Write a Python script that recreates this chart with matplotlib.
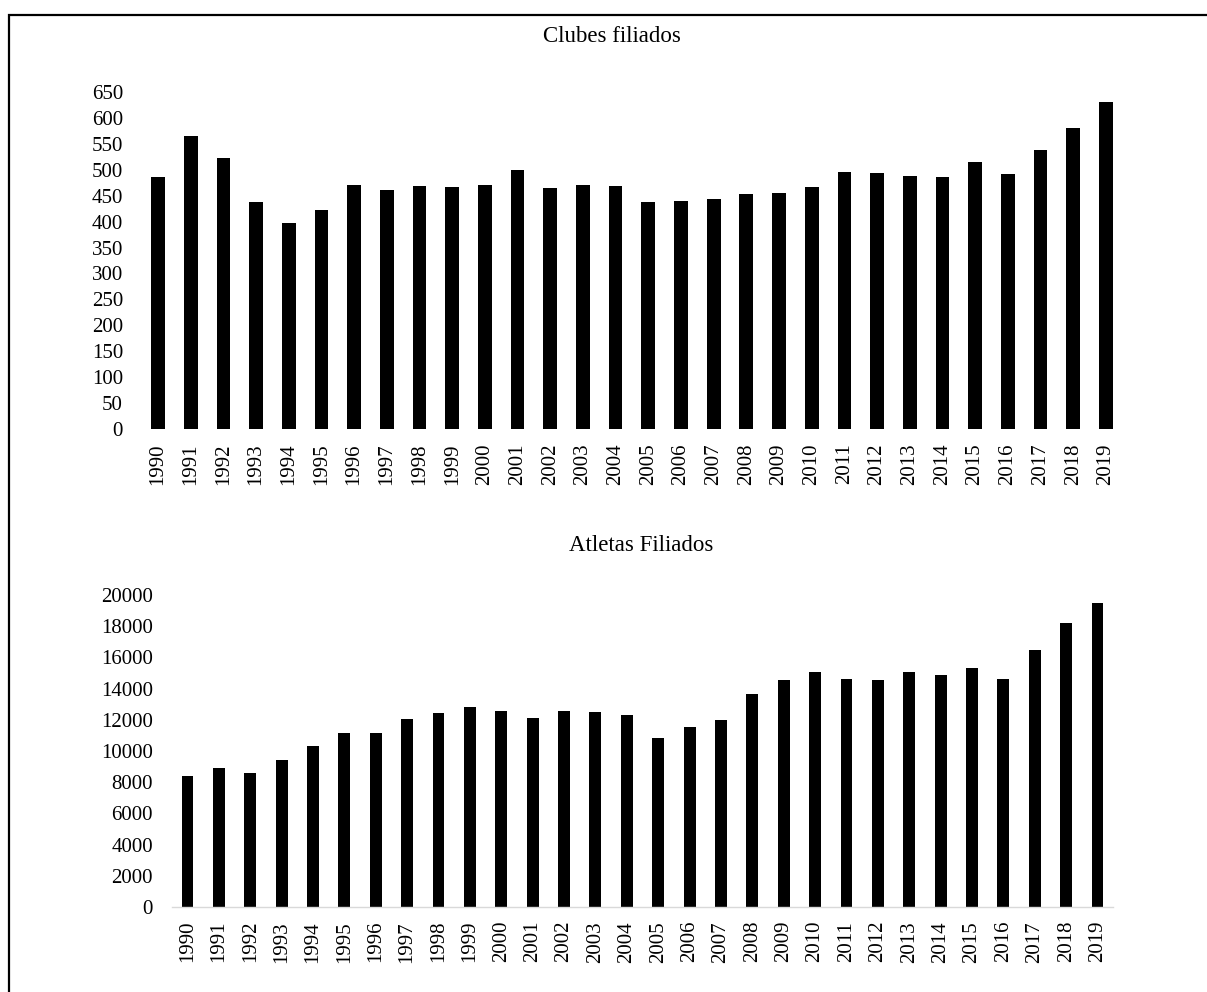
import matplotlib
matplotlib.use("Agg")
import matplotlib.pyplot as plt
from matplotlib.patches import Rectangle

plt.rcParams['font.family'] = ['Liberation Serif', 'DejaVu Serif']

years = [str(y) for y in range(1990, 2020)]

clubes = [485, 565, 522, 437, 398, 422, 470, 461, 469, 466,
          470, 499, 464, 471, 468, 438, 440, 443, 453, 454,
          466, 495, 493, 488, 486, 515, 492, 538, 581, 630]

atletas = [8390, 8880, 8580, 9450, 10310, 11130, 11130, 12020, 12450, 12810,
           12540, 12130, 12580, 12470, 12320, 10810, 11510, 12000, 13630, 14530,
           15040, 14610, 14550, 15040, 14870, 15320, 14590, 16490, 18180, 19470]

clubes_ticks = list(range(0, 651, 50))
atletas_ticks = list(range(0, 20001, 2000))

W, H = 1207, 992
fig = plt.figure(figsize=(W / 100, H / 100), dpi=100)


def px_axes(left, top, right, bottom):
    return fig.add_axes([left / W, 1 - bottom / H, (right - left) / W, (bottom - top) / H])


def style(ax, ticks, ylim, baseline):
    n = len(years)
    ax.set_xlim(-0.5, n - 0.5)
    ax.set_ylim(*ylim)
    ax.set_yticks(ticks)
    ax.set_yticklabels([str(t) for t in ticks])
    ax.set_xticks(range(n))
    ax.set_xticklabels(years, rotation=90)
    for s in ax.spines.values():
        s.set_visible(False)
    if baseline:
        ax.spines['bottom'].set_visible(True)
        ax.spines['bottom'].set_color('#d9d9d9')
        ax.spines['bottom'].set_linewidth(1.0)
    ax.tick_params(axis='y', length=0, pad=13.5, labelsize=15)
    ax.tick_params(axis='x', length=0, pad=10, labelsize=15)


# Top panel: affiliated clubs
ax1 = px_axes(141.7, 91.7, 1122.2, 429.3)
ax1.bar(range(len(years)), clubes, width=0.42, color='black')
style(ax1, clubes_ticks, (0, 650), baseline=False)

# Bottom panel: affiliated athletes
ax2 = px_axes(171.8, 595, 1113.2, 907)
ax2.bar(range(len(years)), atletas, width=0.38, color='black')
style(ax2, atletas_ticks, (0, 20000), baseline=True)

fig.text(612 / W, 1 - 41.5 / H, 'Clubes filiados', ha='center', va='baseline', fontsize=16.5)
fig.text(641 / W, 1 - 551 / H, 'Atletas Filiados', ha='center', va='baseline', fontsize=16.5)

# Frame around the whole figure
fig.add_artist(Rectangle((9 / W, -0.5), 2, 1.5 - 15 / H, transform=fig.transFigure,
                         fill=False, edgecolor='black', linewidth=1.6))

fig.savefig('out.png', dpi=100, facecolor='white')
